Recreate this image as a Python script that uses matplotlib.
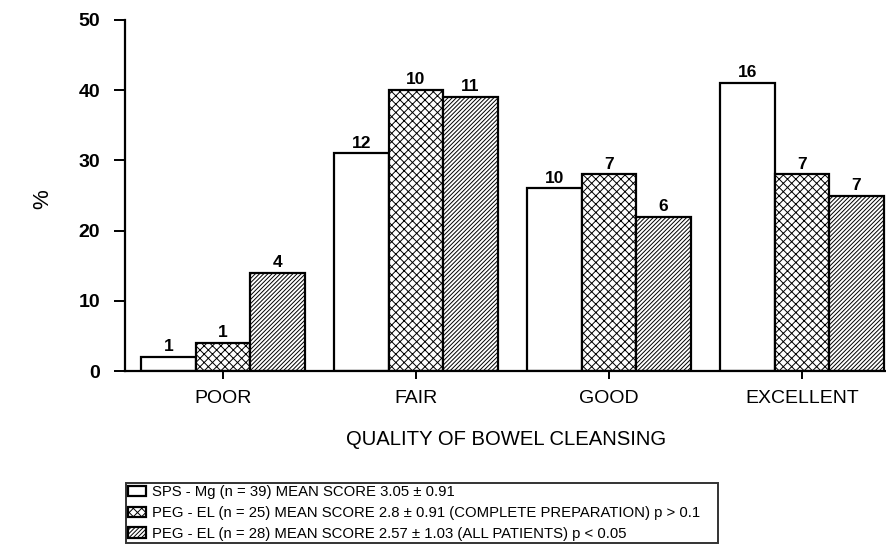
import matplotlib
matplotlib.use('Agg')
import matplotlib.pyplot as plt
import numpy as np

plt.rcParams['font.family'] = ['Liberation Sans', 'DejaVu Sans']
plt.rcParams['hatch.linewidth'] = 0.7

# data
categories = ['POOR', 'FAIR', 'GOOD', 'EXCELLENT']
sps_mg = [2, 31, 26, 41]
peg_complete = [4, 40, 28, 28]
peg_all = [14, 39, 22, 25]
n_sps_mg = [1, 12, 10, 16]
n_peg_complete = [1, 10, 7, 7]
n_peg_all = [4, 11, 6, 7]
labels = ['SPS - Mg (n = 39) MEAN SCORE 3.05 \u00b1 0.91',
          'PEG - EL (n = 25) MEAN SCORE 2.8 \u00b1 0.91 (COMPLETE PREPARATION) p > 0.1',
          'PEG - EL (n = 28) MEAN SCORE 2.57 \u00b1 1.03 (ALL PATIENTS) p < 0.05']

fig = plt.figure(figsize=(8.87, 5.45), dpi=100)
ax = fig.add_axes([125/887, 1 - 371/545, 1 - 125/887, (371 - 20)/545])

x = np.arange(len(categories))
w = 0.282
series = [(sps_mg, n_sps_mg, ''), (peg_complete, n_peg_complete, 'xxxx'),
          (peg_all, n_peg_all, '////////')]
handles = []
for i, (vals, counts, hatch) in enumerate(series):
    bars = ax.bar(x + (i - 1) * w, vals, w, color='white', edgecolor='black',
                  linewidth=1.6, hatch=hatch, label=labels[i])
    handles.append(bars)
    for b, c in zip(bars, counts):
        ax.text(b.get_x() + b.get_width() / 2, b.get_height() + 0.4, str(c),
                ha='center', va='bottom', fontsize=12.5, fontweight='bold')

ax.set_xlim(-0.508, 3.44)
ax.set_ylim(0, 50)
ax.set_yticks([0, 10, 20, 30, 40, 50])
ax.set_xticks(x)
ax.set_xticklabels(categories)
ax.spines['top'].set_visible(False)
ax.spines['right'].set_visible(False)
ax.spines['left'].set_linewidth(1.6)
ax.spines['bottom'].set_linewidth(1.6)
ax.tick_params(axis='y', direction='out', length=8, width=1.4, pad=10, labelsize=14)
ax.tick_params(axis='x', direction='out', length=6, width=1.4, pad=8, labelsize=14)
for t in ax.get_yticklabels():
    t.set_fontweight('bold')
ax.set_xlabel('QUALITY OF BOWEL CLEANSING', fontsize=14.6, labelpad=16)
ax.set_ylabel('%', fontsize=16)
ax.yaxis.set_label_coords(-0.0945, 0.49)

# legend box runs off the bottom edge like in the scan
leg = fig.legend(handles=handles, loc='upper left',
                 bbox_to_anchor=(126/887, 1 - 483/545, (718 - 126)/887, 0.0),
                 mode='expand', borderaxespad=0, fontsize=10.7, frameon=True,
                 fancybox=False, edgecolor='black', handlelength=1.2,
                 handleheight=0.7, handletextpad=0.4, labelspacing=0.45,
                 borderpad=0.15)
leg.get_frame().set_linewidth(1.4)

fig.savefig('out.png', dpi=100)
